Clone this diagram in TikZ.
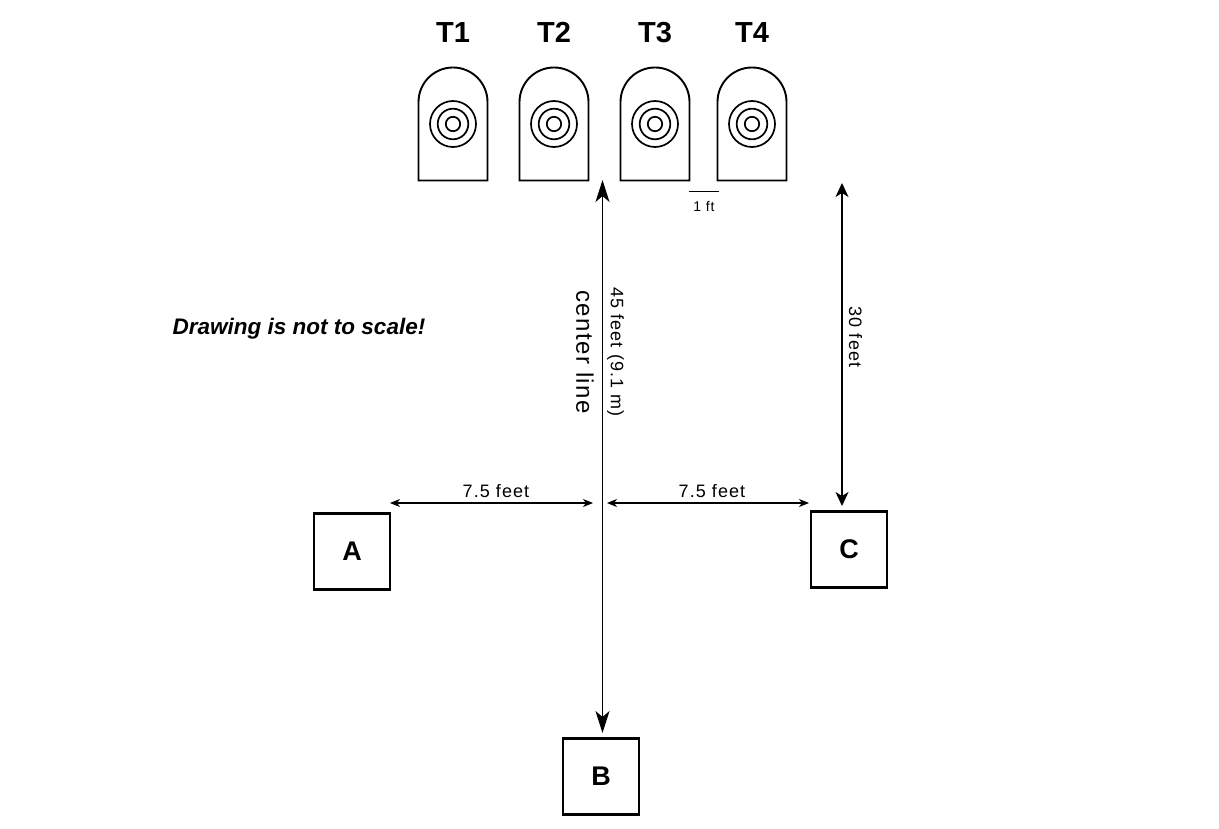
\documentclass[tikz,border=0pt]{standalone}
\usepackage{fontspec}
\setmainfont{Liberation Sans}
\newfontfamily\dimfont[LetterSpace=6]{Liberation Sans}
\usetikzlibrary{arrows.meta}
\tikzset{
  tgt/.style={line width=1.9pt},
  ring/.style={line width=1.7pt},
  tlabel/.style={font=\fontsize{29}{32}\selectfont\bfseries, anchor=base},
  station/.style={draw, line width=2.2pt, minimum width=76pt, minimum height=76pt, inner sep=0pt, font=\fontsize{27}{30}\selectfont\bfseries},
  dimtext/.style={font=\dimfont\fontsize{18}{20}\selectfont, inner sep=0pt},
  longarrow/.style={line width=1.3pt, {Stealth[length=22pt,width=14pt,inset=6pt]}-{Stealth[length=22pt,width=14pt,inset=6pt]}},
  medarrow/.style={line width=1.3pt, {Stealth[length=14pt,width=13pt,inset=4pt]}-{Stealth[length=14pt,width=13pt,inset=4pt]}},
  smallarrow/.style={line width=1.1pt, {Stealth[length=10pt,width=8pt,inset=3pt]}-{Stealth[length=10pt,width=8pt,inset=3pt]}}
}
\begin{document}
\begin{tikzpicture}[x=1pt,y=-1pt]
\useasboundingbox (0,0) rectangle (1219,829);
% targets
\foreach \cx/\nm in {453/T1,554/T2,655/T3,752/T4}{
  \draw[tgt] (\cx-34.5,180.5) -- (\cx-34.5,102) arc (180:360:34.5) -- (\cx+34.5,180.5) -- cycle;
  \coordinate (c\nm) at (\cx,124);
  \draw[ring] (c\nm) circle (23);
  \draw[ring] (c\nm) circle (15.3);
  \draw[ring] (c\nm) circle (7.2);
  \node[tlabel] (l\nm) at (\cx,42.5) {\nm};
}
% 1 ft scale
\coordinate (fa) at (689,191.5);
\coordinate (fb) at (718.5,191.5);
\draw[line width=1.1pt] (fa) -- (fb);
\node[dimtext, font=\dimfont\fontsize{14}{15}\selectfont] (ft) at (704,206) {1 ft};
% stations
\node[station] (A) at (352,551.5) {A};
\node[station] (B) at (601,776.5) {B};
\node[station] (C) at (849,549.5) {C};
% center line
\coordinate (ctop) at (602.5,180);
\coordinate (cbot) at (602.5,733);
\draw[longarrow] (cbot) -- (ctop);
\node[dimtext, rotate=-90] (d45) at (615.5,352) {45 feet (9.1 m)};
\node[font=\dimfont\fontsize{24}{26}\selectfont, inner sep=0pt, rotate=-90] (cl) at (585,352) {center line};
% 30 feet
\coordinate (ttop) at (842,183);
\coordinate (tbot) at (842,506);
\draw[medarrow] (tbot) -- (ttop);
\node[dimtext, rotate=-90] (d30) at (855.5,337) {30 feet};
% horizontal dimensions
\coordinate (la) at (390,503);
\coordinate (lb) at (593,503);
\coordinate (ra) at (607,503);
\coordinate (rb) at (809,503);
\draw[smallarrow] (la) -- (lb);
\draw[smallarrow] (ra) -- (rb);
\node[dimtext] (d1) at (496,491) {7.5 feet};
\node[dimtext] (d2) at (712,491) {7.5 feet};
% note
\node[font=\fontsize{22.5}{24}\selectfont\bfseries\itshape, inner sep=0pt] (note) at (299,329) {Drawing is not to scale!};
\end{tikzpicture}
\end{document}
